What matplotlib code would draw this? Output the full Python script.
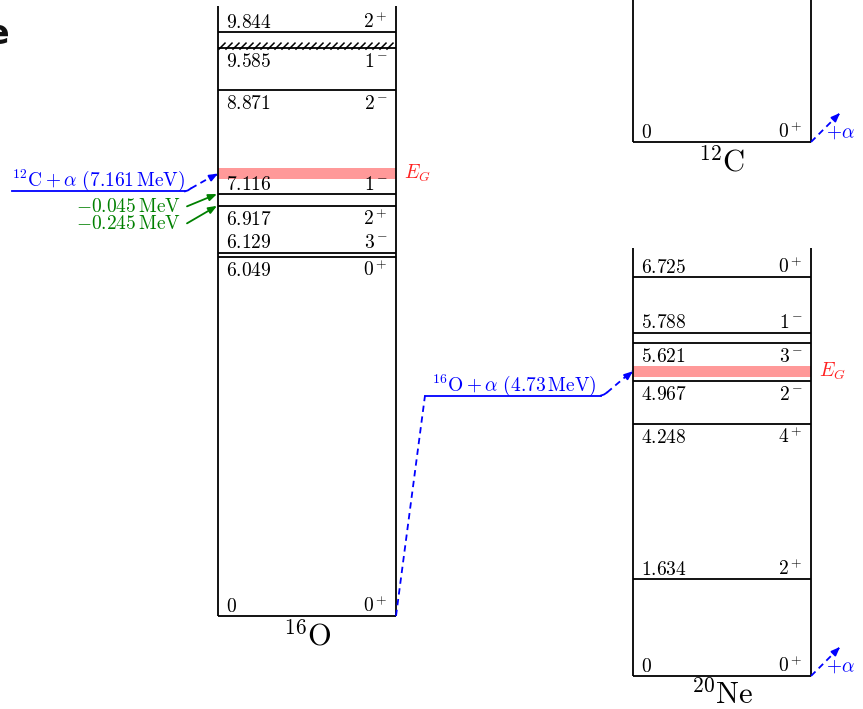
import numpy as np
import matplotlib
matplotlib.use("Agg")
import matplotlib.pyplot as plt

plt.rcParams['mathtext.fontset'] = 'cm'
plt.rcParams['font.family'] = ['DejaVu Sans']

# ---------------- data ----------------
o16_E = [0.0, 6.049, 6.129, 6.917, 7.116, 8.871, 9.585, 9.844]
o16_Jpi = ['0^+', '0^+', '3^-', '2^+', '1^-', '2^-', '1^-', '2^+']
o16_lbl_pos = ['above', 'below', 'above', 'below', 'above', 'below', 'below', 'above']
o16_broad = [False, False, False, False, False, False, True, False]

ne20_E = [0.0, 1.634, 4.248, 4.967, 5.621, 5.788, 6.725]
ne20_Jpi = ['0^+', '2^+', '4^+', '2^-', '3^-', '1^-', '0^+']
ne20_lbl_pos = ['above', 'above', 'below', 'below', 'below', 'above', 'above']

c12_E = [0.0]
c12_Jpi = ['0^+']

o16_alpha_threshold = 7.161   # 12C + alpha
ne20_alpha_threshold = 4.73   # 16O + alpha
o16_gamow = 7.46
ne20_gamow = 5.14
gamow_width = 0.18
q_offsets = [-0.045, -0.245]

# ---------------- layout ----------------
S = 59.3            # px per MeV
W, H = 863, 709
O16_base_px = 616
NE_base_px = 676
C12_base_px = 142

def off(base_px):
    return (O16_base_px - base_px) / S

off_o16 = 0.0
off_ne = off(NE_base_px)
off_c12 = off(C12_base_px)
px = 1.0 / S

fig = plt.figure(figsize=(W / 100, H / 100), dpi=100)
ax = fig.add_axes([0, 0, 1, 1])
ax.set_xlim(0, W)
ax.set_ylim(off(H), off(0))
ax.axis('off')

BLUE = '#0000FF'
GREEN = '#008000'
RED = '#FF2020'
PINK = '#FF9999'
LW = 1.3
FS = 14

def arrow_head(x0, y0, x1, y1, color):
    ax.annotate('', xy=(x1, y1), xytext=(x0 + 0.9 * (x1 - x0), y0 + 0.9 * (y1 - y0)),
                arrowprops=dict(arrowstyle='-|>,head_length=0.5,head_width=0.2',
                                color=color, lw=LW, shrinkA=0, shrinkB=0,
                                mutation_scale=10))

def level_scheme(xl, xr, energies, jpis, positions, offset, top, broad=None):
    ax.plot([xl, xl], [offset, top], color='k', lw=LW, solid_capstyle='butt')
    ax.plot([xr, xr], [offset, top], color='k', lw=LW, solid_capstyle='butt')
    for i, (E, J, pos) in enumerate(zip(energies, jpis, positions)):
        y = E + offset
        ax.plot([xl, xr], [y, y], color='k', lw=LW, solid_capstyle='butt')
        if broad is not None and broad[i]:
            for xh in np.arange(xl + 1, xr - 3, 7.0):
                ax.plot([xh, xh + 6], [y - 1.5 * px, y + 4.5 * px], color='k', lw=1.1)
        if pos == 'above':
            yt = y + 4.5 * px
        else:
            yt = y - 19 * px
        lab = ('%g' % E) if E == 0 else ('%.3f' % E)
        ax.text(xl + 8, yt, r'$%s$' % lab, fontsize=FS, ha='left', va='baseline')
        ax.text(xr - 8, yt, r'$%s$' % J, fontsize=FS, ha='right', va='baseline')

# Gamow windows
ax.fill_between([218, 396], o16_gamow - gamow_width / 2, o16_gamow + gamow_width / 2,
                color=PINK, lw=0)
ax.fill_between([633, 811], ne20_gamow + off_ne - gamow_width / 2,
                ne20_gamow + off_ne + gamow_width / 2, color=PINK, lw=0)

level_scheme(218, 396, o16_E, o16_Jpi, o16_lbl_pos, off_o16, off(6), o16_broad)
level_scheme(633, 811, ne20_E, ne20_Jpi, ne20_lbl_pos, off_ne, off(248))
level_scheme(633, 811, c12_E, c12_Jpi, ['above'], off_c12, off(-5))

ax.text(404, o16_gamow, r'$E_G$', color=RED, fontsize=FS, ha='left', va='center')
ax.text(819, ne20_gamow + off_ne, r'$E_G$', color=RED, fontsize=FS, ha='left', va='center')

# nucleus names
ax.text(307, off_o16 - 29 * px, r'$^{16}\mathrm{O}$', fontsize=22, ha='center', va='baseline')
ax.text(722, off_ne - 27.5 * px, r'$^{20}\mathrm{Ne}$', fontsize=22, ha='center', va='baseline')
ax.text(722, off_c12 - 29 * px, r'$^{12}\mathrm{C}$', fontsize=22, ha='center', va='baseline')

# 12C + alpha entrance channel
yth = o16_alpha_threshold + off_o16
ax.plot([12, 185], [yth, yth], color=BLUE, lw=LW)
ax.plot([185, 188, 191], [yth, yth + 1 * px, yth + 3 * px], color=BLUE, lw=LW)
ax.plot([191, 217], [yth + 3 * px, o16_gamow], color=BLUE, lw=LW, ls=(0, (3.5, 2.5)))
arrow_head(191, yth + 3 * px, 218, o16_gamow, BLUE)
ax.text(99, yth + 5 * px, r'$^{12}\mathrm{C}+\alpha\ (7.161\,\mathrm{MeV})$', color=BLUE,
        fontsize=FS, ha='center', va='baseline')

# green Q-value arrows
for k, q in enumerate(q_offsets):
    ytar = o16_alpha_threshold + q + off_o16
    ystart = yth - (15 + 17 * k) * px
    ax.annotate('', xy=(217, ytar), xytext=(187, ystart),
                arrowprops=dict(arrowstyle='-|>,head_length=0.5,head_width=0.2',
                                color=GREEN, lw=LW, shrinkA=0, shrinkB=0,
                                mutation_scale=10))
    ax.text(181, ystart, r'$%s\,\mathrm{MeV}$' % ('%.3f' % q),
            color=GREEN, fontsize=FS, ha='right', va='center')

# 16O + alpha -> 20Ne
yne = ne20_alpha_threshold + off_ne
ax.plot([396, 425], [off_o16, yne], color=BLUE, lw=LW, ls=(0, (3.5, 2.5)))
ax.plot([425, 601], [yne, yne], color=BLUE, lw=LW)
ax.plot([601, 604, 607], [yne, yne + 1 * px, yne + 3 * px], color=BLUE, lw=LW)
ax.plot([607, 632], [yne + 3 * px, ne20_gamow + off_ne], color=BLUE, lw=LW, ls=(0, (3.5, 2.5)))
arrow_head(607, yne + 3 * px, 633, ne20_gamow + off_ne, BLUE)
ax.text(514, yne + 5 * px, r'$^{16}\mathrm{O}+\alpha\ (4.73\,\mathrm{MeV})$', color=BLUE,
        fontsize=FS, ha='center', va='baseline')

# +alpha exit arrows
for base in (off_c12, off_ne):
    ax.plot([811, 838], [base, base + 27 * px], color=BLUE, lw=LW, ls=(0, (3.5, 2.5)))
    arrow_head(811, base, 840, base + 29 * px, BLUE)
    ax.text(826, base + 4 * px, r'$+\alpha$', color=BLUE, fontsize=FS, ha='left', va='baseline')

# clipped title fragment at top-left
ax.text(9, off(35), 'e', fontsize=24, fontweight='bold', ha='right', va='center', color='#111111')

fig.savefig('out.png', dpi=100)
